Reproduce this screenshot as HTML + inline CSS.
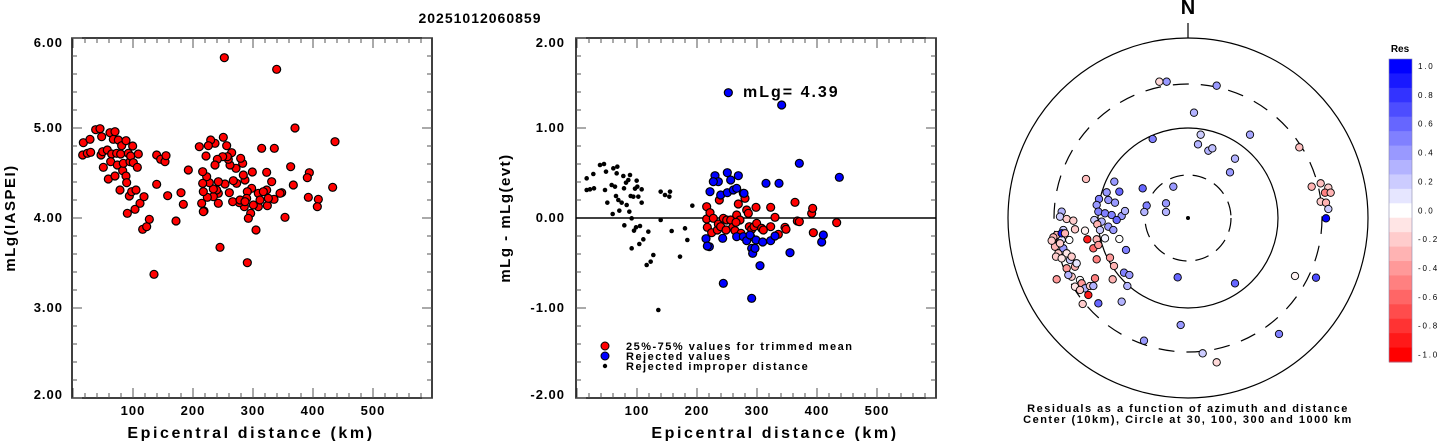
<!DOCTYPE html>
<html><head><meta charset="utf-8"><style>
html,body{margin:0;padding:0;background:#fff;}
svg{display:block;font-family:"Liberation Sans",Arial,sans-serif;font-weight:bold;}
</style></head><body>
<svg id="s" width="1437" height="441" viewBox="0 0 1437 441" xmlns="http://www.w3.org/2000/svg">
<rect width="1437" height="441" fill="#fff"/>
<text x="480" y="23" font-size="14" text-anchor="middle" letter-spacing="1">20251012060859</text>
<g id="L"></g><g id="M"></g><g id="P"></g>
<g font-size="13" text-anchor="end" letter-spacing="1">
<text x="63" y="47">6.00</text><text x="63" y="132">5.00</text><text x="63" y="222">4.00</text><text x="63" y="312">3.00</text><text x="63" y="399">2.00</text>
<text x="565" y="47">2.00</text><text x="565" y="132">1.00</text><text x="565" y="222">0.00</text><text x="565" y="312">-1.00</text><text x="565" y="399">-2.00</text>
</g>
<g font-size="13" text-anchor="middle" letter-spacing="1">
<text x="133" y="415">100</text><text x="193" y="415">200</text><text x="253" y="415">300</text><text x="313" y="415">400</text><text x="373" y="415">500</text>
<text x="637" y="415">100</text><text x="697" y="415">200</text><text x="757" y="415">300</text><text x="817" y="415">400</text><text x="877" y="415">500</text>
</g>
<g font-size="16" text-anchor="middle" letter-spacing="2.6">
<text x="251" y="438">Epicentral distance (km)</text>
<text x="775" y="438">Epicentral distance (km)</text>
</g>
<g font-size="15" text-anchor="middle" letter-spacing="1.5">
<text transform="translate(15,218) rotate(-90)">mLg(IASPEI)</text>
<text transform="translate(510,218) rotate(-90)">mLg - mLg(evt)</text>
</g>
<text x="743" y="97" font-size="16" letter-spacing="2">mLg= 4.39</text>
<g font-size="11" letter-spacing="1.5">
<circle cx="605" cy="346" r="4" fill="#f00" stroke="#000"/><text x="626" y="350">25%-75% values for trimmed mean</text>
<circle cx="605" cy="356" r="4" fill="#00f" stroke="#000"/><text x="626" y="360">Rejected values</text>
<circle cx="605" cy="366" r="2.2" fill="#000"/><text x="626" y="370">Rejected improper distance</text>
</g>
<text x="1188" y="14" font-size="20" text-anchor="middle" font-weight="bold">N</text>
<line x1="1188" y1="23" x2="1188" y2="38" stroke="#000" stroke-width="1.2"/>
<g font-size="11" text-anchor="middle" letter-spacing="1.5">
<text x="1188" y="412">Residuals as a function of azimuth and distance</text>
<text x="1188" y="423">Center (10km), Circle at 30, 100, 300 and 1000 km</text>
</g>
<text x="1400" y="52" font-size="10" text-anchor="middle">Res</text>
<g id="C"></g>
</svg>
<script>
var NS="http://www.w3.org/2000/svg";
function el(p,t,a){var e=document.createElementNS(NS,t);for(var k in a)e.setAttribute(k,a[k]);p.appendChild(e);return e;}
function frame(g,x0){
 el(g,"rect",{x:x0,y:38,width:360,height:360,fill:"none",stroke:"#000","stroke-width":1.5});
 for(var i=0;i<=20;i++){var y=38+i*18,L=(i%5==0)?10:5;
  el(g,"line",{x1:x0,y1:y,x2:x0+L,y2:y,stroke:"#555"});el(g,"line",{x1:x0+360-L,y1:y,x2:x0+360,y2:y,stroke:"#555"});}
 for(var i=0;i<=30;i++){var x=x0+1+i*12,L=(i%5==0)?10:5;if(x>x0+359)break;
  el(g,"line",{x1:x,y1:38,x2:x,y2:38+L,stroke:"#555"});el(g,"line",{x1:x,y1:398-L,x2:x,y2:398,stroke:"#555"});}
}
var L=document.getElementById("L"),M=document.getElementById("M"),P=document.getElementById("P"),C=document.getElementById("C");
frame(L,72);frame(M,576);
el(M,"line",{x1:576,y1:218,x2:936,y2:218,stroke:"#000","stroke-width":1.5});
var lp=[248,465,250,428,262,460,270,418,272,457,287,389,300,386,305,410,303,465,310,502,308,455,322,450,325,537,330,398,335,462,332,485,340,418,345,395,345,528,350,460,352,495,355,420,360,570,362,462,365,437,368,512,370,490,378,422,378,528,380,548,382,640,385,460,388,588,390,485,392,468,395,575,398,438,400,488,405,628,408,570,412,502,415,462,420,610,428,688,432,590,440,680,448,658,462,823,470,553,470,465,482,478,495,485,498,467,503,587,528,663,543,578,550,613,565,510,673,173,830,208,885,384,1005,425,998,562,955,598,952,620,928,518,925,592,922,533,880,555,872,500,855,652,845,578,840,580,822,598,815,545,800,517,800,570,802,617,805,595,785,445,823,445,768,690,742,788,660,742,775,620,775,580,757,516,755,565,752,640,745,655,742,575,740,595,735,540,733,620,730,525,728,490,722,475,718,608,710,550,708,505,700,542,698,605,695,458,690,495,688,578,685,478,682,470,680,437,675,552,670,412,668,470,655,610,655,580,652,478,650,570,645,495,645,430,640,590,640,567,632,420,628,548,625,437,622,592,620,530,618,468,612,633,610,575,608,550,608,515,605,610,610,635,598,440,655,545,720,600,760,615,735,605,780,600,790,575];
for(var i=0;i<lp.length;i+=2)el(L,"circle",{cx:lp[i]/3,cy:lp[i+1]/3,r:4,fill:"#f00",stroke:"#000","stroke-width":1.2});
var bk=[320,535,320,570,330,568,342,565,340,522,360,495,372,492,378,515,375,570,382,608,395,555,398,642,400,505,405,560,410,520,408,588,412,500,418,632,415,600,425,608,430,528,432,565,433,676,438,548,440,615,445,540,448,635,450,525,452,588,455,655,455,745,460,590,462,692,465,566,468,682,470,542,472,560,475,590,478,732,480,678,485,568,485,608,490,718,500,795,505,695,512,785,520,765,535,930,542,660,542,575,555,585,568,590,570,575,575,693,600,770,615,685,622,720,637,617];
for(var i=0;i<bk.length;i+=2)el(M,"circle",{cx:480+bk[i]/3,cy:bk[i+1]/3,r:2.3,fill:"#000"});
var rd=[680,620,680,657,682,682,690,638,695,698,700,655,712,690,715,672,718,600,722,680,730,655,740,660,752,660,758,682,765,692,770,645,775,612,780,660,783,700,790,580,795,595,800,630,805,640,808,680,812,710,815,688,822,680,828,622,830,670,845,685,850,690,872,622,872,680,885,652,895,703,915,682,918,688,945,607,952,663,958,665,995,640,998,625,1000,698,1070,668,768,667,738,690];
var bl=[745,278,905,315,958,490,1078,532,705,527,715,545,742,518,752,540,775,527,700,545,690,575,722,585,742,578,760,570,770,565,792,580,858,550,897,550,678,716,688,740,682,738,728,715,730,850,770,710,790,710,800,722,810,705,815,745,818,760,825,745,828,720,815,895,840,797,848,726,872,722,885,708,930,758,1025,726,1030,705];
for(var i=0;i<rd.length;i+=2)el(M,"circle",{cx:480+rd[i]/3,cy:rd[i+1]/3,r:4,fill:"#f00",stroke:"#000","stroke-width":1.2});
for(var i=0;i<bl.length;i+=2)el(M,"circle",{cx:480+bl[i]/3,cy:bl[i+1]/3,r:4,fill:"#00f",stroke:"#000","stroke-width":1.2});
var cx=1188,cy=218;
el(P,"circle",{cx:cx,cy:cy,r:180,fill:"none",stroke:"#000","stroke-width":1.2});
el(P,"circle",{cx:cx,cy:cy,r:90,fill:"none",stroke:"#000","stroke-width":1.2});
el(P,"circle",{cx:cx,cy:cy,r:43,fill:"none",stroke:"#000","stroke-width":1.2,"stroke-dasharray":"14,9"});
el(P,"circle",{cx:cx,cy:cy,r:134,fill:"none",stroke:"#000","stroke-width":1.2,"stroke-dasharray":"16,12"});
el(P,"circle",{cx:cx,cy:cy,r:2,fill:"#000"});
function col(v){v=Math.max(-1,Math.min(1,v));var c;if(v>=0){c=Math.round(255*(1-v));return "rgb("+c+","+c+",255)";}c=Math.round(255*(1+v));return "rgb(255,"+c+","+c+")";}
var pp=[478,245,-0.15,500,245,0.4,650,257,0.4,582,338,0.3,458,417,0.5,602,404,0.2,594,433,0.3,625,452,0.3,637,445,0.25,750,404,0.35,705,476,0.3,690,517,0.4,898,442,-0.25,520,560,0.4,428,565,0.6,498,610,0.4,498,636,0.3,440,617,0.5,433,636,0.3,935,560,-0.3,962,550,-0.25,985,563,-0.2,975,578,-0.5,992,578,-0.3,962,605,-0.2,978,608,-0.3,985,627,0.2,978,655,1.0,533,832,0.6,705,850,0.6,885,828,-0.05,948,833,0.7,542,975,0.4,432,1022,0.4,608,1060,0.2,650,1087,-0.15,837,1002,0.5,258,537,-0.25,343,545,0.4,320,577,0.4,358,575,0.6,297,597,0.5,325,600,0.4,345,608,0.4,290,615,0.4,295,635,0.5,315,640,0.5,335,645,0.5,365,648,0.4,375,633,0.3,350,660,0.6,283,660,0.2,305,665,0.3,325,680,0.4,340,690,0.4,292,673,-0.3,300,690,0.2,255,692,-0.05,225,688,-0.2,262,718,-0.9,290,718,-0.3,280,745,-0.6,295,735,-0.4,315,715,0.05,358,717,0.0,378,750,0.5,290,778,-0.5,330,773,-0.4,342,798,-0.3,338,838,-0.3,372,818,0.5,388,825,0.4,382,858,0.3,365,905,0.3,295,910,0.6,248,912,-0.2,265,885,-0.9,285,835,-0.5,170,838,-0.4,185,635,0.3,180,650,0.2,200,657,-0.2,220,662,-0.2,190,690,0.2,170,705,-0.3,160,718,-0.4,165,740,-0.3,185,720,0.1,208,720,0.0,175,760,-0.2,190,745,0.4,200,760,-0.1,210,780,0.2,215,770,-0.2,225,800,-0.3,200,805,-0.4,215,830,-0.2,205,825,0.3,225,860,-0.1,240,840,0.0,245,850,-0.4,255,865,0.3,270,858,-0.2,280,858,0.3,240,870,-0.2,185,700,0.9,180,730,-0.2,195,700,-0.3,160,712,-0.3,155,722,-0.2,168,770,-0.2,185,775,-0.1,230,790,0.1];
for(var i=0;i<pp.length;i+=3)el(P,"circle",{cx:1000+pp[i]/3,cy:pp[i+1]/3,r:3.7,fill:col(pp[i+2]),stroke:"#000","stroke-width":0.9});
for(var k=0;k<21;k++){var v=1-k*0.1;el(C,"rect",{x:1389,y:59+k*14.43,width:23,height:14.9,fill:col(v)});}
el(C,"rect",{x:1389,y:59,width:23,height:303,fill:"none",stroke:"#88a","stroke-width":0.6});
var lab=["1.0","0.8","0.6","0.4","0.2","0.0","-0.2","-0.4","-0.6","-0.8","-1.0"];
for(var k=0;k<11;k++){var t=el(C,"text",{x:1418,y:69+k*28.85,"font-size":8,"letter-spacing":"1.8","font-weight":"normal"});t.textContent=lab[k];}
</script>
</body></html>
